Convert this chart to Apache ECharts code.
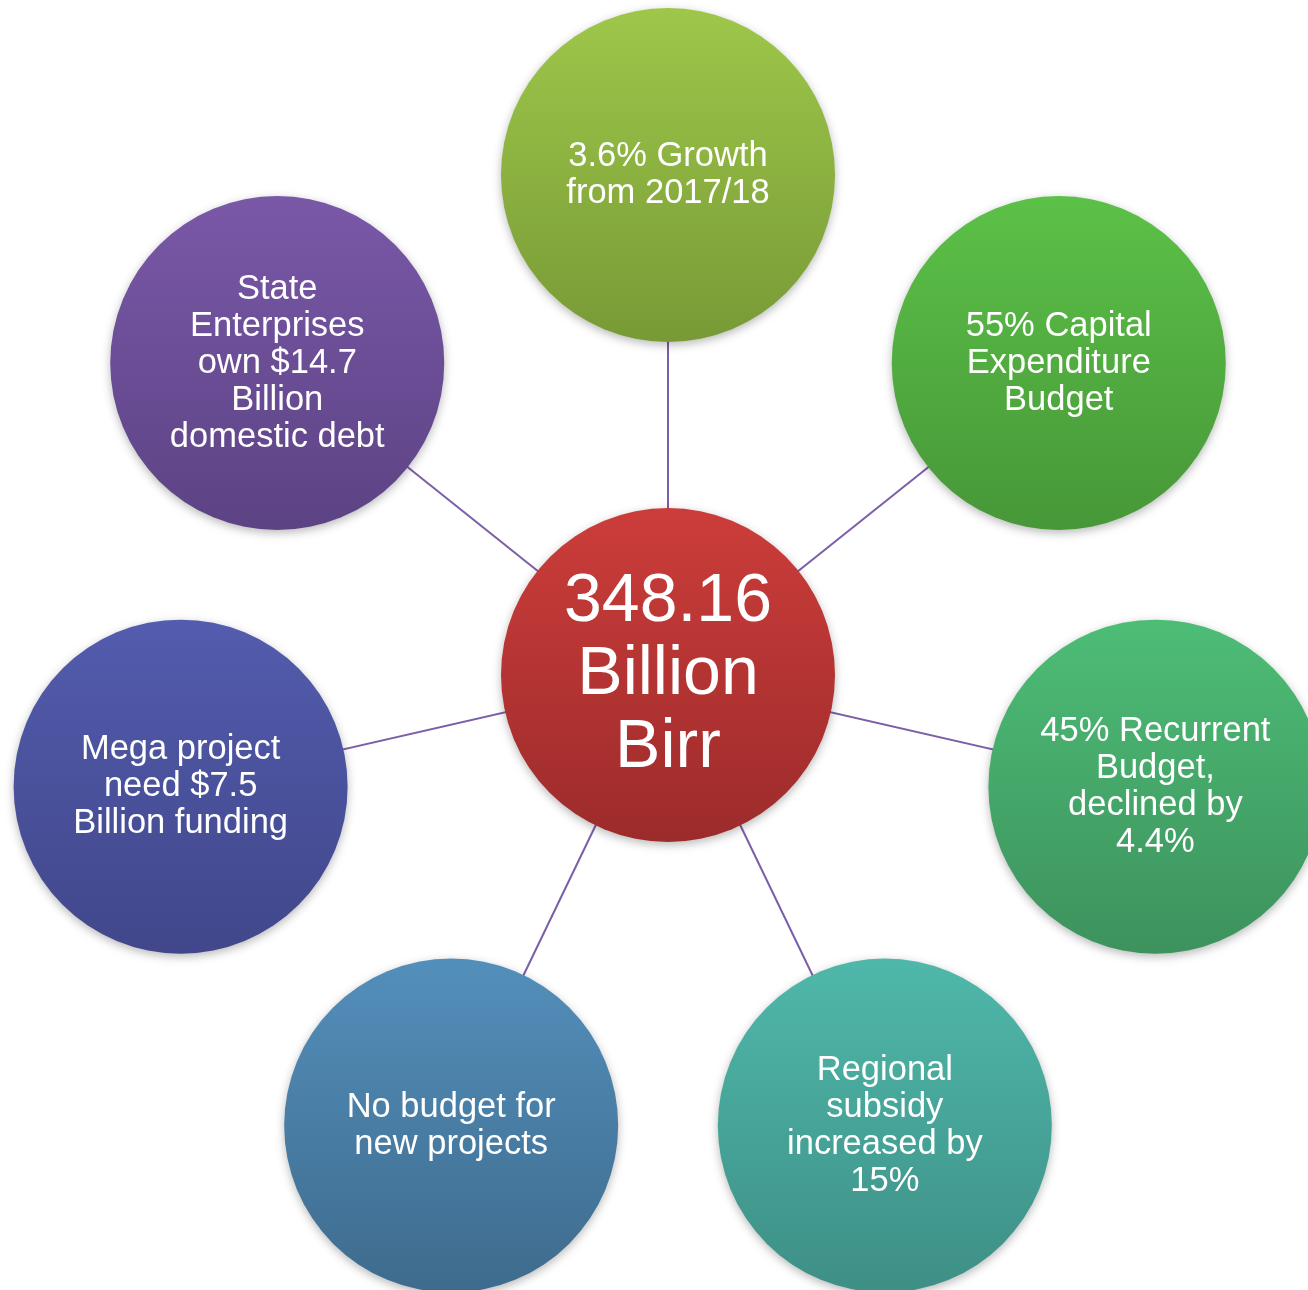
<!DOCTYPE html>
<html>
<head>
<meta charset="utf-8">
<script src="https://cdn.jsdelivr.net/npm/echarts@6/dist/echarts.min.js"></script>
<style>
html,body{margin:0;padding:0;background:#fff;}
#chart{width:1308px;height:1290px;}
</style>
</head>
<body>
<div id="chart"></div>
<script>
// Hub node
const hubLabel = "348.16\nBillion\nBirr";
const hubColors = ["#cc3d3a", "#9c2b2b"];

// Satellite nodes (clockwise from top)
const nodeLabels = [
  "3.6% Growth\nfrom 2017/18",
  "55% Capital\nExpenditure\nBudget",
  "45% Recurrent\nBudget,\ndeclined by\n4.4%",
  "Regional\nsubsidy\nincreased by\n15%",
  "No budget for\nnew projects",
  "Mega project\nneed $7.5\nBillion funding",
  "State\nEnterprises\nown $14.7\nBillion\ndomestic debt"
];
const nodeAngles = [0, 51.4, 102.9, 154.3, 205.7, 257.1, 308.6];
const nodeDistance = [1, 1, 1, 1, 1, 1, 1];
const nodeTopColors = ["#9ec74a", "#5cc148", "#4dbd76", "#4fb8aa", "#538fbb", "#535cae", "#7a58a8"];
const nodeBottomColors = ["#789a36", "#479738", "#3d925d", "#3e8f86", "#3e6b8d", "#41478a", "#5c4384"];

function grad(top, bottom) {
  return new echarts.graphic.LinearGradient(0, 0, 0, 1, [
    { offset: 0, color: top },
    { offset: 1, color: bottom }
  ]);
}

const chart = echarts.init(document.getElementById('chart'), null, { renderer: 'canvas' });

const spokeSeries = nodeAngles.map((a, i) => ({
  type: 'line',
  coordinateSystem: 'polar',
  data: [[0, a], [nodeDistance[i], a]],
  symbol: 'none',
  silent: true,
  z: 1,
  lineStyle: { color: '#7b5ea8', width: 2 }
}));

const shadow = {
  opacity: 1,
  shadowBlur: 10,
  shadowColor: 'rgba(0,0,0,0.28)',
  shadowOffsetY: 3
};

const nodeData = nodeLabels.map((lab, i) => ({
  value: [nodeDistance[i], nodeAngles[i]],
  name: lab,
  itemStyle: Object.assign({ color: grad(nodeTopColors[i], nodeBottomColors[i]) }, shadow),
  label: { formatter: lab, fontSize: 34.5, lineHeight: 37 }
}));

const hubData = [{
  value: [0, 0],
  name: hubLabel,
  itemStyle: Object.assign({ color: grad(hubColors[0], hubColors[1]) }, shadow),
  label: { formatter: hubLabel, fontSize: 68, lineHeight: 73 }
}];

chart.setOption({
  animation: false,
  backgroundColor: '#ffffff',
  polar: { center: [668, 675], radius: 500 },
  angleAxis: {
    type: 'value', min: 0, max: 360, startAngle: 90, clockwise: true,
    show: false, splitLine: { show: false }
  },
  radiusAxis: { type: 'value', min: 0, max: 1, show: false, splitLine: { show: false } },
  series: spokeSeries.concat([{
    type: 'scatter',
    coordinateSystem: 'polar',
    symbol: 'circle',
    symbolSize: 334,
    z: 5,
    itemStyle: { opacity: 1 },
    data: nodeData.concat(hubData),
    label: {
      show: true,
      position: 'inside',
      color: '#ffffff',
      fontFamily: 'Liberation Sans, Arial, sans-serif',
      align: 'center',
      verticalAlign: 'middle'
    },
    emphasis: { disabled: true }
  }])
});
</script>
</body>
</html>
